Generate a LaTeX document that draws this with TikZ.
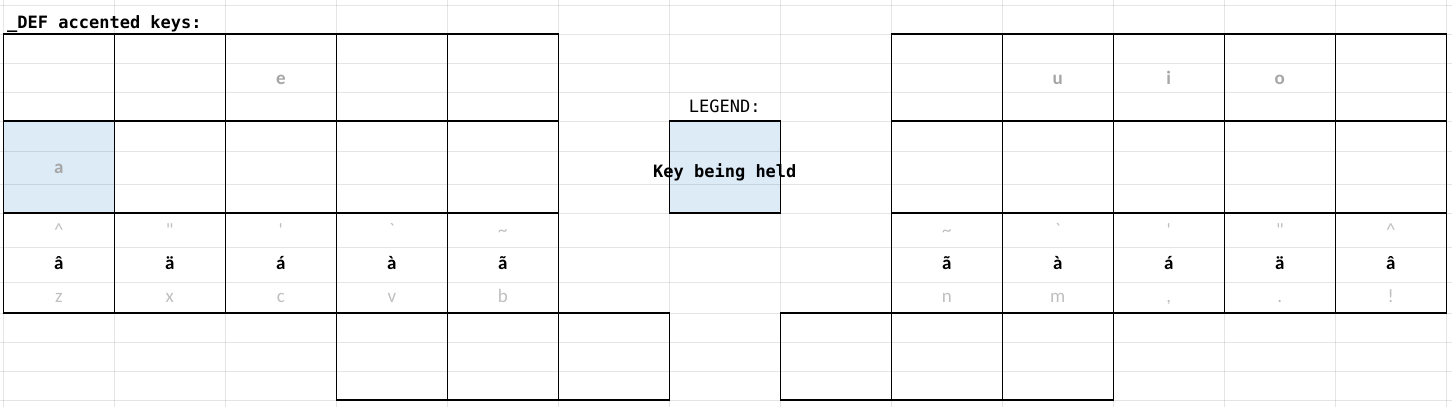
\documentclass[tikz,border=0pt]{standalone}
\usepackage{fontspec}
\setmainfont{Carlito}[Ligatures=TeXOff]
\setmonofont{DejaVu Sans Mono}
\usetikzlibrary{positioning}
\definecolor{heldblue}{HTML}{DDEBF7}
\definecolor{lettergray}{HTML}{A6A6A6}
\definecolor{symgray}{HTML}{BFBFBF}
\newcommand\acckey[3]{\textcolor{symgray}{#1}\strut\\\textbf{#2}\strut\\\textcolor{symgray}{#3}\strut}

\begin{document}
\begin{tikzpicture}[x=1pt,y=-1pt,node distance=0pt,
	key/.style={draw,line width=1.2pt,minimum width=111pt,inner sep=0pt,outer sep=0pt},
	top row/.style={key,minimum height=87pt},
	home row/.style={key,minimum height=92pt},
	bottom row/.style={key,minimum height=100pt,align=center,font=\fontsize{19}{33}\selectfont},
	thumb row/.style={key,minimum height=87pt},
	letter/.style={text=lettergray,font=\bfseries\fontsize{19}{33}\selectfont,text height=23pt,text depth=10pt},
	held/.style={fill=heldblue},
	mono/.style={font=\ttfamily\fontsize{17}{20}\selectfont,inner sep=0pt},
	title/.style={font=\ttfamily\bfseries\fontsize{17}{20}\selectfont,inner sep=0pt},
	grid line/.style={black,opacity=.1,line width=1pt}]
	
	\useasboundingbox (0,0) rectangle (1452,407);
	\node[title,anchor=base west] (heading) at (7,28) {\_DEF accented keys:};
	
	\node[top row,anchor=north west] (q) at (3.3,34) {};
	\node[top row] (w) [right=of q] {};
	\node[top row,letter] (e) [right=of w] {e};
	\node[top row] (r) [right=of e] {};
	\node[top row] (t) [right=of r] {};
	\node[top row] (y) [right=333pt of t] {};
	\node[top row,letter] (u) [right=of y] {u};
	\node[top row,letter] (i) [right=of u] {i};
	\node[top row,letter] (o) [right=of i] {o};
	\node[top row] (p) [right=of o] {};
	
	\node[home row,held,letter] (a) [below=of q] {a};
	\node[home row] (s) [right=of a] {};
	\node[home row] (d) [right=of s] {};
	\node[home row] (f) [right=of d] {};
	\node[home row] (g) [right=of f] {};
	\node[home row] (h) [below=of y] {};
	\node[home row] (j) [right=of h] {};
	\node[home row] (k) [right=of j] {};
	\node[home row] (l) [right=of k] {};
	\node[home row] (semi) [right=of l] {};
	
	\node[bottom row] (z) [below=of a] {\acckey{\textasciicircum}{â}{z}};
	\node[bottom row] (x) [right=of z] {\acckey{\textquotedbl}{ä}{x}};
	\node[bottom row] (c) [right=of x] {\acckey{\textquotesingle}{á}{c}};
	\node[bottom row] (v) [right=of c] {\acckey{\textasciigrave}{à}{v}};
	\node[bottom row] (b) [right=of v] {\acckey{\textasciitilde}{ã}{b}};
	\node[bottom row] (n) [below=of h] {\acckey{\textasciitilde}{ã}{n}};
	\node[bottom row] (m) [right=of n] {\acckey{\textasciigrave}{à}{m}};
	\node[bottom row] (comma) [right=of m] {\acckey{\textquotesingle}{á}{,}};
	\node[bottom row] (dot) [right=of comma] {\acckey{\textquotedbl}{ä}{.}};
	\node[bottom row] (bang) [right=of dot] {\acckey{\textasciicircum}{â}{!}};
	
	\node[thumb row] (th1) [below=of v] {};
	\node[thumb row] (th2) [right=of th1] {};
	\node[thumb row] (th3) [right=of th2] {};
	\node[thumb row] (th5) [below=of n] {};
	\node[thumb row] (th4) [left=of th5] {};
	\node[thumb row] (th6) [right=of th5] {};
	
	\node[home row,held,title,text height=24pt,text depth=4pt] (legend) [right=111pt of g] {\makebox[0pt]{Key being held}};
	\node[mono] (legend title) [above=8pt of legend] {LEGEND:};
	
	\foreach \gy in {5,34,63,92,121,151,184,213,247,282,313,342,371,400}
		\draw[grid line] (0,\gy) -- (1452,\gy);
	\foreach \gx in {0,...,13}
		\draw[grid line] (3.3+111*\gx,0) -- (3.3+111*\gx,407);
\end{tikzpicture}
\end{document}
